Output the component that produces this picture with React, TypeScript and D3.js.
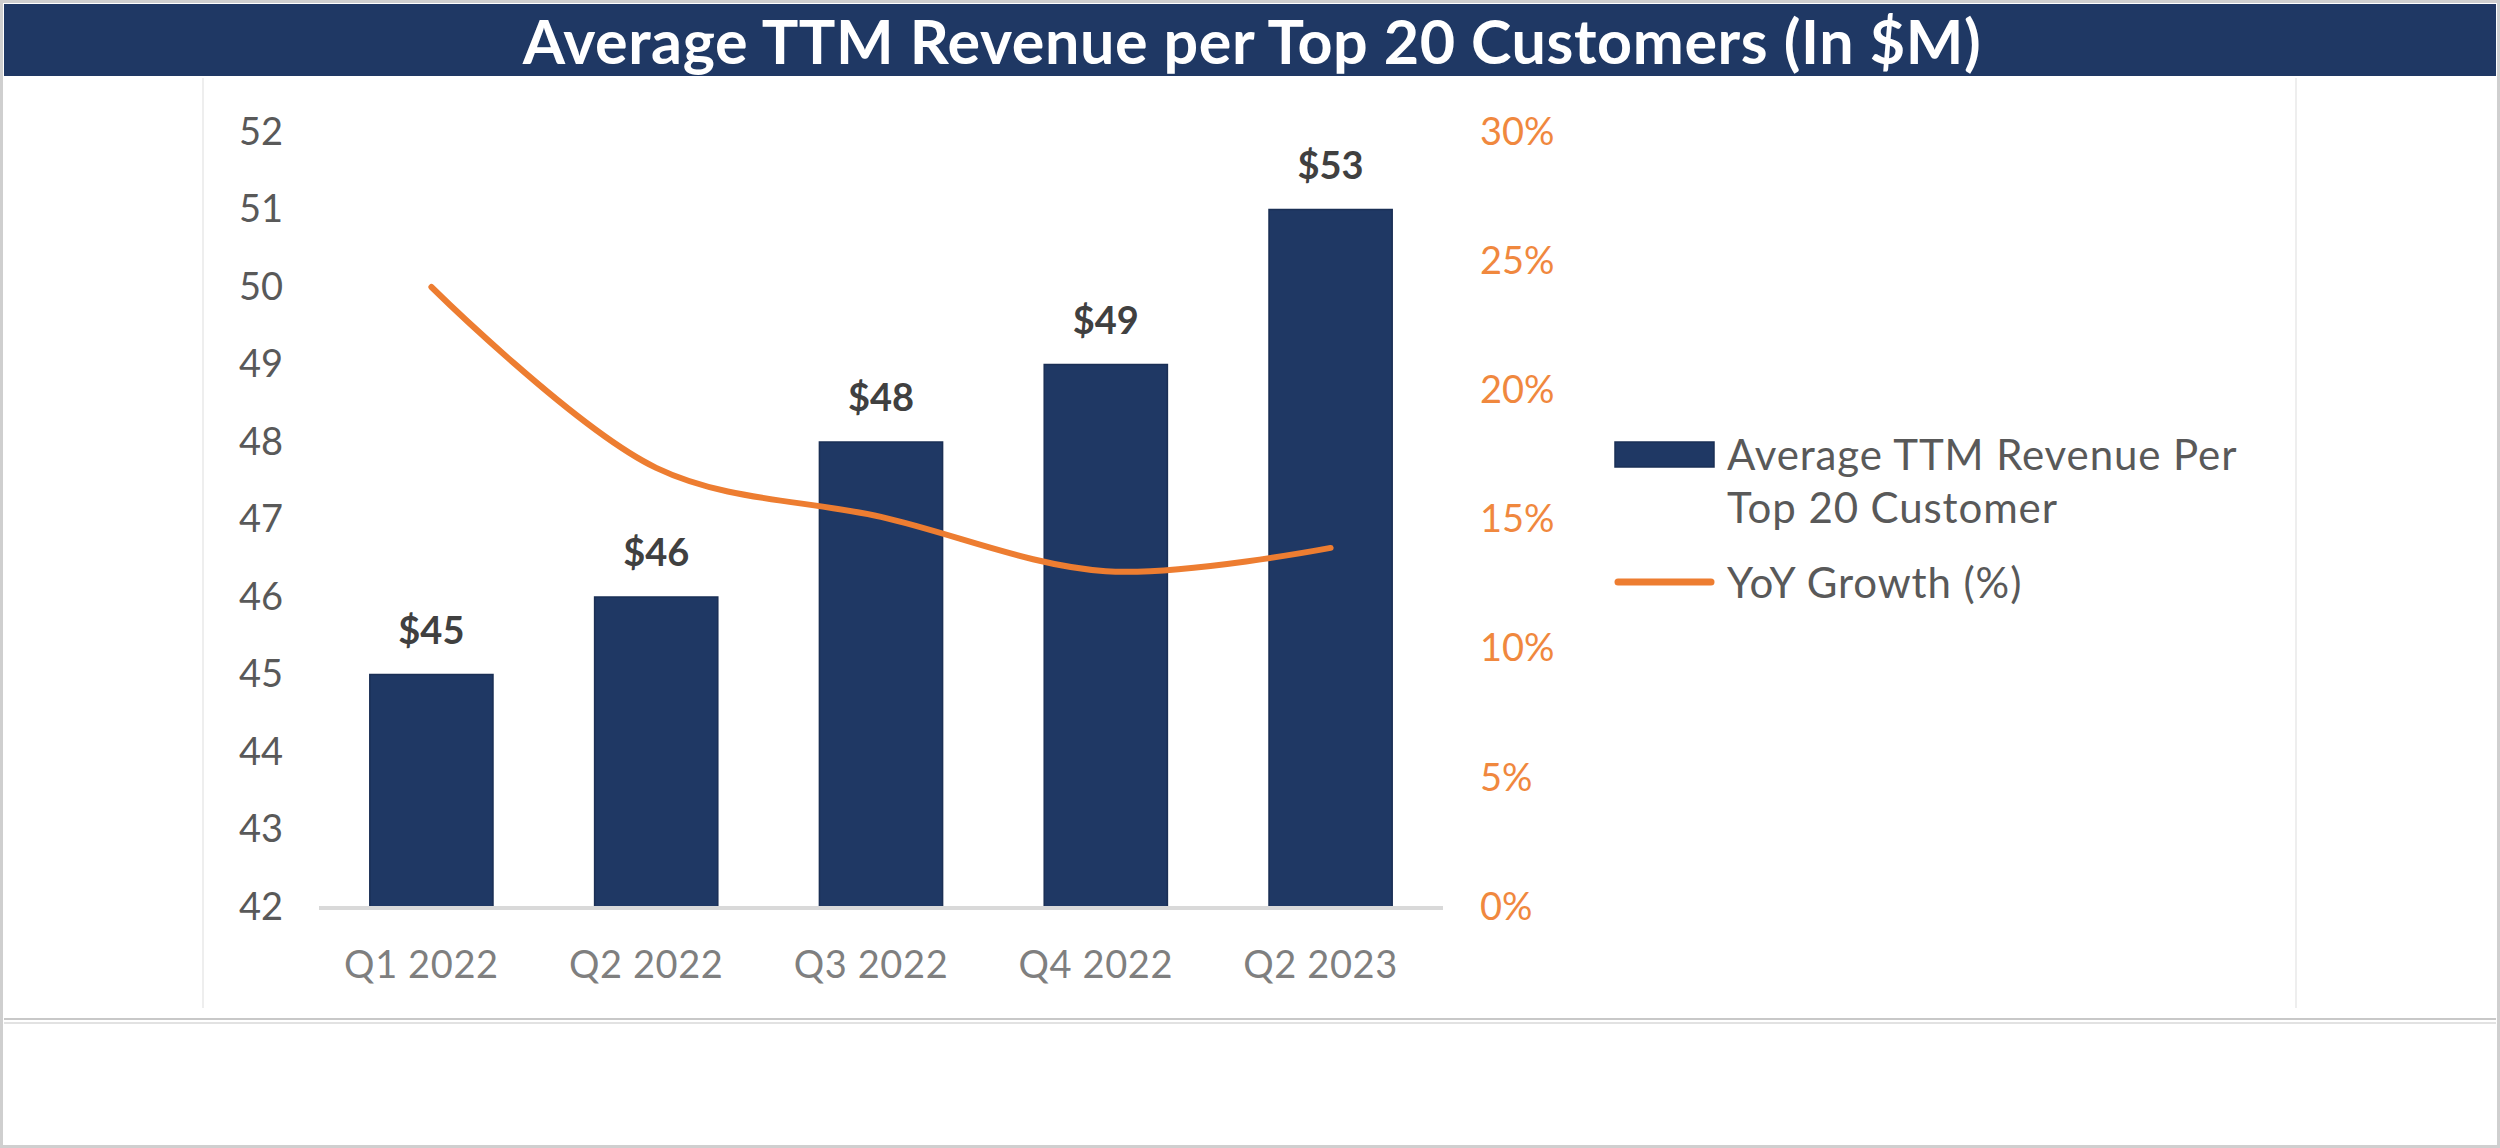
import { useEffect, useRef } from "react";
import {
    axisBottom,
    axisLeft,
    axisRight,
    curveCatmullRom,
    format,
    line,
    scaleBand,
    scaleLinear,
    select
} from "d3";

const quarters = ["Q1 2022", "Q2 2022", "Q3 2022", "Q4 2022", "Q2 2023"];
const revenue = [45, 46, 48, 49, 51];
const revenueLabels = ["$45", "$46", "$48", "$49", "$53"];
const growth = [0.24, 0.17, 0.151, 0.13, 0.139];
const leftTicks = [42, 43, 44, 45, 46, 47, 48, 49, 50, 51, 52];
const rightTicks = [0, 0.05, 0.1, 0.15, 0.2, 0.25, 0.3];

const title = "Average TTM Revenue per Top 20 Customers (In $M)";
const barName = ["Average TTM Revenue Per", "Top 20 Customer"];
const lineName = "YoY Growth (%)";

const NAVY = "#1F3864";
const ORANGE = "#ED7D31";
const FONT = "Lato, 'Open Sans', sans-serif";

const W = 2500;
const H = 1148;
const plot = { left: 319, right: 1443, top: 132, bottom: 907 };

export default function App() {
    const leftRef = useRef<SVGGElement>(null);
    const rightRef = useRef<SVGGElement>(null);
    const bottomRef = useRef<SVGGElement>(null);

    const x = scaleBand<string>()
        .domain(quarters)
        .range([plot.left, plot.right])
        .paddingInner(0.452)
        .paddingOuter(0.226);
    const yLeft = scaleLinear().domain([42, 52]).range([plot.bottom, plot.top]);
    const yRight = scaleLinear().domain([0, 0.3]).range([plot.bottom, plot.top]);

    const center = (q: string) => (x(q) ?? 0) + x.bandwidth() / 2;
    const growthLine = line<number>()
        .x((_, i) => center(quarters[i]))
        .y((d) => yRight(d))
        .curve(curveCatmullRom.alpha(0.5));

    useEffect(() => {
        const style = (g: any, color: string) => {
            g.select(".domain").remove();
            g.selectAll("text")
                .attr("fill", color)
                .style("font-family", FONT)
                .style("font-size", "38px");
        };
        if (leftRef.current) {
            select(leftRef.current)
                .call(axisLeft(yLeft).tickValues(leftTicks).tickSize(0).tickPadding(36))
                .call((g) => style(g, "#595959"));
        }
        if (rightRef.current) {
            select(rightRef.current)
                .call(
                    axisRight(yRight)
                        .tickValues(rightTicks)
                        .tickFormat(format(".0%"))
                        .tickSize(0)
                        .tickPadding(37)
                )
                .call((g) => style(g, "#F0883E"));
        }
        if (bottomRef.current) {
            select(bottomRef.current)
                .call(axisBottom(x).tickSize(0).tickPadding(44))
                .call((g) => style(g, "#7F7F7F"));
            select(bottomRef.current)
                .selectAll("text")
                .attr("dx", -10)
                .style("letter-spacing", "0.6px");
        }
    }, []);

    return (
        <svg
            width={W}
            height={H}
            style={{ position: "absolute", left: 0, top: 0, background: "#fff" }}
        >
            <rect x={1.5} y={1.5} width={W - 3} height={H - 3} fill="#fff" stroke="#CFCFCF" strokeWidth={3} />
            <rect x={4} y={4} width={W - 8} height={72} fill={NAVY} />
            <text
                x={W / 2 + 2}
                y={64}
                textAnchor="middle"
                fill="#fff"
                fontFamily={FONT}
                fontWeight={700}
                fontSize={61}
                letterSpacing={0.6}
            >
                {title}
            </text>

            {/* inner frame */}
            <line x1={203} x2={203} y1={78} y2={1008} stroke="#EEEEEE" strokeWidth={2} />
            <line x1={2296} x2={2296} y1={78} y2={1008} stroke="#EEEEEE" strokeWidth={2} />
            <line x1={4} x2={W - 4} y1={1019} y2={1019} stroke="#C8C8C8" strokeWidth={2} />
            <line x1={4} x2={W - 4} y1={1023} y2={1023} stroke="#E2E2E2" strokeWidth={2} />

            {quarters.map((q, i) => (
                <rect
                    key={`bar-${q}`}
                    x={x(q)}
                    y={yLeft(revenue[i])}
                    width={x.bandwidth()}
                    height={plot.bottom - yLeft(revenue[i])}
                    fill={NAVY}
                    stroke="#1A2F55"
                    strokeWidth={1.5}
                />
            ))}

            <line
                x1={plot.left}
                x2={plot.right}
                y1={plot.bottom + 1}
                y2={plot.bottom + 1}
                stroke="#D9D9D9"
                strokeWidth={4}
            />

            {quarters.map((q, i) => (
                <text
                    key={`label-${q}`}
                    x={center(q)}
                    y={yLeft(revenue[i]) - 31}
                    textAnchor="middle"
                    fill="#404040"
                    fontFamily={FONT}
                    fontWeight={700}
                    fontSize={38}
                >
                    {revenueLabels[i]}
                </text>
            ))}

            <path
                d={growthLine(growth) ?? ""}
                fill="none"
                stroke={ORANGE}
                strokeWidth={6}
                strokeLinecap="round"
            />

            <g ref={leftRef} transform={`translate(${plot.left},0)`} />
            <g ref={rightRef} transform={`translate(${plot.right},0)`} />
            <g ref={bottomRef} transform={`translate(0,${plot.bottom})`} />

            {/* legend */}
            <g fontFamily={FONT} fontSize={42} fill="#595959" letterSpacing={0.9}>
                <rect x={1615} y={442} width={99} height={25} fill={NAVY} stroke="#1A2F55" strokeWidth={1.5} />
                <text x={1727} y={454} dominantBaseline="central">{barName[0]}</text>
                <text x={1727} y={507} dominantBaseline="central">{barName[1]}</text>
                <line x1={1618} x2={1711} y1={582} y2={582} stroke={ORANGE} strokeWidth={7} strokeLinecap="round" />
                <text x={1727} y={582} dominantBaseline="central">{lineName}</text>
            </g>
        </svg>
    );
}
